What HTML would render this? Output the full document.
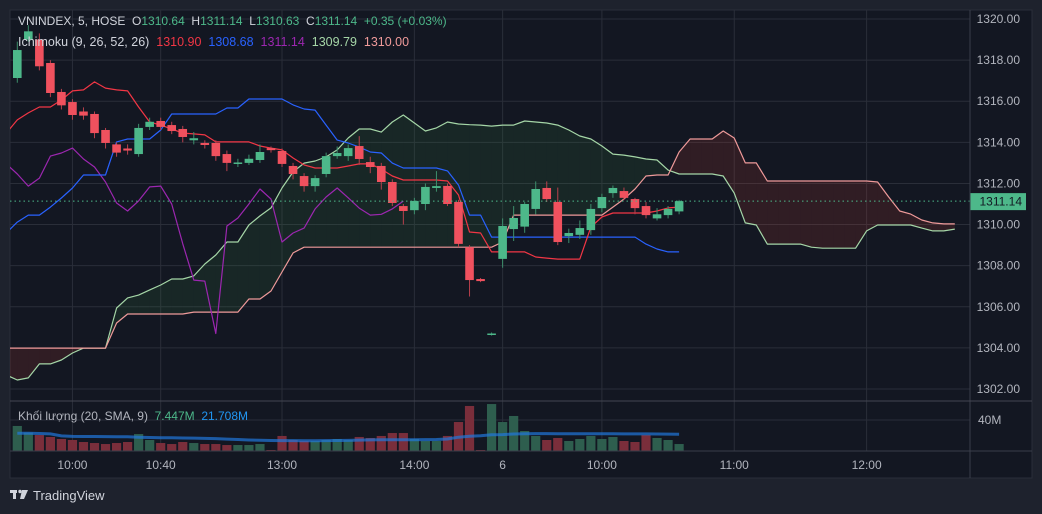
<!DOCTYPE html>
<html><head><meta charset="utf-8">
<style>
html,body{margin:0;padding:0;background:#1e222d;width:1042px;height:514px;overflow:hidden;}
svg{display:block;font-family:"Liberation Sans","Noto Sans CJK JP",sans-serif;}
</style></head>
<body>
<svg id="chart" width="1042" height="514" viewBox="0 0 1042 514">
  <rect x="0" y="0" width="1042" height="514" fill="#1e222d"/>
  <rect x="10" y="10" width="1022" height="468" fill="#131722" stroke="#2a2e39"/>
  <g id="grid"></g>
  <g id="cloud"></g>
  <g id="lines"></g>
  <g id="candles"></g>
  <g id="volume"></g>
  <g id="axes"></g>
  <line x1="970" y1="10" x2="970" y2="478" stroke="#3a3e4a"/>
  <line x1="10" y1="401" x2="1032" y2="401" stroke="#434651"/>
  <line x1="10" y1="451" x2="1032" y2="451" stroke="#3a3e4a"/>
  <text x="18" y="25" font-size="12" fill="#d1d4dc" xml:space="preserve">VNINDEX, 5, HOSE  O<tspan fill="#4db88a">1310.64</tspan>  H<tspan fill="#4db88a">1311.14</tspan>  L<tspan fill="#4db88a">1310.63</tspan>  C<tspan fill="#4db88a">1311.14</tspan>  <tspan fill="#4db88a">+0.35 (+0.03%)</tspan></text>
  <text x="18" y="46" font-size="12.5" fill="#d1d4dc" xml:space="preserve">Ichimoku (9, 26, 52, 26)  <tspan fill="#f23645">1310.90</tspan>  <tspan fill="#2962ff">1308.68</tspan>  <tspan fill="#9c27b0">1311.14</tspan>  <tspan fill="#a5d6a7">1309.79</tspan>  <tspan fill="#ef9a9a">1310.00</tspan></text>
  <text x="18" y="420" font-size="12" fill="#b2b5be" xml:space="preserve">Khối lượng (20, SMA, 9)  <tspan fill="#4db88a">7.447M</tspan>  <tspan fill="#2196f3">21.708M</tspan></text>
  <g>
    <rect x="10" y="490" width="7" height="3" fill="#d1d4dc"/><rect x="13" y="490" width="3" height="9" fill="#d1d4dc"/>
    <circle cx="20" cy="491.5" r="1.7" fill="#d1d4dc"/>
    <polygon points="22,490 28,490 24,499 20,499" fill="#d1d4dc"/>
    <text x="33" y="500" font-size="13" fill="#d1d4dc">TradingView</text>
  </g>
</svg>
<script>
// ---- data ----
const opens  = [1317.13,1319.0,1319.0,1317.86,1316.45,1315.96,1315.5,1315.38,1314.6,1313.9,1313.7,1313.43,1314.75,1315.04,1314.84,1314.65,1314.1,1313.97,1313.97,1313.43,1312.98,1313.0,1313.14,1313.72,1313.58,1312.85,1312.36,1311.87,1312.46,1313.33,1313.33,1313.82,1313.04,1312.85,1312.07,1310.9,1310.7,1311.0,1311.78,1311.88,1311.1,1308.9,1307.35,1304.65,1308.33,1309.78,1309.9,1310.76,1311.78,1311.1,1309.44,1309.5,1309.73,1310.8,1311.53,1311.63,1311.24,1310.9,1310.3,1310.46,1310.64];
const closes = [1318.49,1319.4,1317.7,1316.4,1315.8,1315.33,1315.3,1314.45,1313.97,1313.5,1313.6,1314.7,1315.0,1314.75,1314.55,1314.26,1314.2,1313.87,1313.33,1313.0,1313.02,1313.2,1313.53,1313.62,1312.95,1312.46,1311.87,1312.26,1313.33,1313.48,1313.72,1313.19,1312.8,1312.07,1311.05,1310.66,1311.15,1311.83,1311.87,1311.0,1309.06,1307.3,1307.25,1304.7,1309.93,1310.32,1311.0,1311.73,1311.24,1309.15,1309.59,1309.83,1310.76,1311.34,1311.78,1311.3,1310.8,1310.46,1310.5,1310.76,1311.14];
const highs  = [1318.9,1319.7,1319.3,1318.0,1316.6,1316.1,1315.7,1315.5,1314.7,1314.0,1313.9,1314.9,1315.2,1315.2,1315.0,1314.8,1314.5,1314.1,1314.1,1313.6,1313.2,1313.4,1313.9,1313.8,1313.7,1313.0,1312.5,1312.4,1313.5,1313.8,1313.9,1314.3,1313.3,1313.0,1312.2,1311.0,1311.3,1312.0,1312.6,1312.0,1311.2,1309.0,1307.4,1304.75,1310.3,1310.9,1311.1,1312.1,1312.1,1311.8,1309.8,1310.2,1311.0,1311.5,1311.9,1311.8,1311.3,1311.1,1310.8,1310.9,1311.2];
const lows   = [1316.9,1318.9,1317.5,1316.2,1315.6,1315.1,1315.1,1314.2,1313.7,1313.3,1313.4,1313.3,1314.6,1314.6,1314.4,1314.0,1313.9,1313.7,1313.1,1312.6,1312.8,1312.9,1313.0,1313.5,1312.8,1312.2,1311.6,1311.6,1312.3,1313.2,1313.1,1312.9,1312.5,1311.7,1310.9,1310.0,1310.5,1310.7,1311.6,1310.9,1308.9,1306.5,1307.2,1304.6,1307.9,1309.2,1309.6,1310.5,1311.1,1309.0,1309.1,1309.3,1309.5,1310.6,1311.3,1311.2,1310.5,1310.3,1310.2,1310.3,1310.5];
const volumes = [32.3,23.7,20.6,18.1,15.5,14.2,11.6,10.3,9.0,10.3,11.6,21.9,14.2,10.3,9.0,11.6,10.3,9.0,9.0,7.7,7.7,7.7,9.0,1.3,19.4,14.2,12.9,12.9,14.2,15.5,14.2,18.1,16.8,19.4,23.2,23.2,15.5,12.9,12.9,19.4,37.4,58.1,1.3,60.6,37.4,45.2,25.8,19.4,14.2,16.8,12.9,15.5,19.4,15.5,18.1,12.9,11.6,20.6,16.8,14.2,9.0];
const volumeMA = [22.8,22.8,22.6,22.0,19.5,18.9,18.7,18.7,18.6,18.5,18.3,17.8,17.4,17.1,17.0,16.8,16.6,16.3,16.0,15.4,14.8,14.2,13.8,13.5,13.4,13.4,13.3,13.3,13.4,13.5,13.7,14.1,14.3,14.5,14.6,14.6,14.6,14.7,14.8,15.5,17.8,19.0,19.8,21.0,21.2,21.9,22.2,22.4,22.4,22.3,22.3,22.3,22.3,22.2,22.2,22.1,22.1,22.0,21.9,21.8,21.7];
// tenkan / kijun start at bar -1
const tenkan = [1314.45,1315.09,1315.43,1315.72,1315.72,1316.06,1316.50,1316.55,1316.94,1316.64,1316.55,1316.50,1315.72,1314.99,1314.84,1314.65,1314.45,1314.41,1314.36,1314.02,1314.02,1314.02,1314.02,1313.82,1313.72,1313.63,1313.24,1312.90,1312.75,1312.75,1312.75,1312.85,1312.95,1312.95,1312.70,1312.36,1312.17,1312.17,1312.17,1312.17,1312.12,1311.44,1309.64,1309.59,1308.67,1308.67,1308.67,1308.67,1308.42,1308.37,1308.32,1308.32,1308.32,1309.88,1310.37,1310.56,1310.56,1310.56,1310.56,1310.66,1310.81,1310.85];
const kijun = [1309.59,1310.12,1310.46,1310.46,1310.85,1311.29,1311.78,1312.41,1312.41,1312.41,1314.02,1314.16,1314.16,1314.16,1314.60,1315.38,1315.38,1315.38,1315.38,1315.38,1315.67,1315.67,1316.11,1316.11,1316.11,1316.11,1315.82,1315.62,1315.57,1314.84,1314.11,1313.97,1313.77,1313.53,1313.48,1312.99,1312.75,1312.75,1312.75,1312.75,1312.61,1311.92,1310.46,1310.46,1309.39,1309.39,1309.39,1309.39,1309.39,1309.39,1309.39,1309.39,1309.39,1309.39,1309.39,1309.39,1309.39,1309.39,1309.05,1308.81,1308.67,1308.67];
// spans start at bar -1, end at bar 85
const spanA = [1302.68,1302.44,1302.54,1303.22,1303.22,1303.41,1303.75,1303.99,1303.99,1303.99,1305.94,1306.43,1306.57,1306.82,1307.06,1307.35,1307.35,1307.50,1308.08,1308.52,1309.15,1309.15,1309.98,1310.42,1310.81,1311.78,1312.56,1312.99,1313.09,1313.29,1313.63,1314.21,1314.65,1314.65,1314.50,1314.99,1315.33,1314.94,1314.55,1314.70,1314.99,1314.89,1314.86,1314.84,1314.79,1314.84,1314.84,1315.04,1314.99,1314.94,1314.84,1314.60,1314.31,1314.16,1313.82,1313.43,1313.38,1313.29,1313.19,1313.14,1312.65,1312.46,1312.46,1312.46,1312.46,1312.36,1311.53,1310.08,1309.98,1309.05,1309.05,1309.05,1309.05,1308.90,1308.85,1308.85,1308.85,1308.85,1309.69,1309.98,1309.98,1309.98,1309.98,1309.83,1309.69,1309.69,1309.78];
const spanB = [1303.99,1303.99,1303.99,1303.99,1303.99,1303.99,1303.99,1303.99,1303.99,1303.99,1305.21,1305.65,1305.65,1305.65,1305.65,1305.65,1305.65,1305.74,1305.74,1305.74,1305.74,1305.74,1306.38,1306.38,1306.77,1307.69,1308.62,1308.90,1308.90,1308.90,1308.90,1308.90,1308.90,1308.90,1308.90,1308.90,1308.90,1308.90,1308.90,1308.90,1308.90,1308.90,1308.90,1308.90,1308.90,1309.15,1310.46,1310.46,1310.46,1310.46,1310.46,1310.46,1310.46,1310.46,1310.46,1310.85,1311.24,1311.73,1312.36,1312.41,1312.41,1313.53,1314.16,1314.16,1314.16,1314.55,1314.21,1313.00,1313.00,1312.12,1312.12,1312.12,1312.12,1312.12,1312.12,1312.12,1312.12,1312.12,1312.12,1312.07,1311.34,1310.66,1310.51,1310.22,1310.08,1310.03,1310.03];
const chikouShift = 25;
const priceTicks = [1320,1318,1316,1314,1312,1310,1308,1306,1304,1302];
const timeTickBars = [5,13,24,36,44,53,65,77];
const timeTickLabels = ["10:00","10:40","13:00","14:00","6","10:00","11:00","12:00"];
const lastPrice = 1311.14;
const volTick = 40;

// ---- scales ----
const NS='http://www.w3.org/2000/svg';
const X0=17.3, DX=11.03;
function xs(i){return X0+DX*i;}
function ys(p){return 19+(1320-p)*20.556;}
function yv(v){return 451 - v*31/40;}
function mk(tag,attrs,parent){const e=document.createElementNS(NS,tag);for(const k in attrs)e.setAttribute(k,attrs[k]);parent.appendChild(e);return e;}
const G=id=>document.getElementById(id);

// ---- grid ----
const grid=G('grid');
priceTicks.forEach(p=>{
  const l=mk('line',{x1:10,x2:970,y1:ys(p),y2:ys(p),stroke:'#2a2e39'},grid);
  
  
});
{const l=mk('line',{x1:10,x2:970,y1:yv(volTick),y2:yv(volTick),stroke:'#2a2e39'},grid);

}
timeTickBars.forEach(b=>{
  const l=mk('line',{x1:xs(b),x2:xs(b),y1:10,y2:451,stroke:'#2a2e39'},grid);
  
  
});

// ---- cloud ----
const cloud=G('cloud');
const clipId='plotclip';
const defs=mk('defs',{},G('chart'));
const cp=mk('clipPath',{id:clipId},defs);mk('rect',{x:10,y:10,width:960,height:391},cp);
cloud.setAttribute('clip-path','url(#'+clipId+')');
for(let k=0;k<spanA.length-1;k++){
  const i=k-1;
  const a0=spanA[k],a1=spanA[k+1],b0=spanB[k],b1=spanB[k+1];
  const d0=a0-b0,d1=a1-b1;
  const segs=[];
  if(d0*d1<0){const t=d0/(d0-d1);const pm=a0+(a1-a0)*t;segs.push([i,i+t,a0,pm,b0,pm,d0>0]);segs.push([i+t,i+1,pm,a1,pm,b1,d1>0]);}
  else segs.push([i,i+1,a0,a1,b0,b1,(d0+d1)>=0]);
  segs.forEach(s=>{
    const pts=[[xs(s[0]),ys(s[2])],[xs(s[1]),ys(s[3])],[xs(s[1]),ys(s[5])],[xs(s[0]),ys(s[4])]].map(q=>q.join(',')).join(' ');
    const pg=mk('polygon',{points:pts,fill:s[6]?'rgba(67,160,71,0.12)':'rgba(244,67,54,0.13)'},cloud);
    
    
  });
}
// ---- lines ----
const lines=G('lines');
lines.setAttribute('clip-path','url(#'+clipId+')');
function poly(arr,start,color,name,w){
  const pts=arr.map((v,k)=>xs(start+k).toFixed(1)+','+ys(v).toFixed(1)).join(' ');
  const pl=mk('polyline',{points:pts,fill:'none',stroke:color,'stroke-width':w||1.2,'stroke-linejoin':'round'},lines);
  
  
}
poly(spanA,-1,'#a5d6a7','leading-span-a');
poly(spanB,-1,'#ef9a9a','leading-span-b');
const chikou=closes.slice(chikouShift-1);
poly(chikou,-1,'#9c27b0','lagging-span');
poly(kijun,-1,'#2962ff','base-line');
poly(tenkan,-1,'#f23645','conversion-line');

// ---- candles ----
const cg=G('candles');
opens.forEach((o,i)=>{
  const c=closes[i],up=c>=o,col=up?'#4db88a':'#f0515e';
  const x=xs(i);
  const w=mk('line',{x1:x,x2:x,y1:ys(highs[i]),y2:ys(lows[i]),stroke:up?'#3d8f6c':'#b8404c','stroke-width':1},cg);
  
  
  const top=ys(Math.max(o,c)),h=Math.max(1.5,Math.abs(ys(o)-ys(c)));
  const r=mk('rect',{x:x-4.3,y:top,width:8.6,height:h,fill:col},cg);
  
  
});

// ---- volume ----
const vg=G('volume');
volumes.forEach((v,i)=>{
  const up=closes[i]>=opens[i];
  const r=mk('rect',{x:xs(i)-4.6,y:yv(v),width:9.2,height:451-yv(v),fill:up?'#2e5e4e':'#7a2e3b'},vg);
  
  
});
{const pts=volumeMA.map((v,i)=>xs(i).toFixed(1)+','+yv(v).toFixed(1)).join(' ');
const pl=mk('polyline',{points:pts,fill:'none',stroke:'rgba(33,120,220,0.7)','stroke-width':3},vg);

}

// ---- axes ----
const ax=G('axes');
priceTicks.forEach(p=>{
  const t=mk('text',{x:1020,y:ys(p)+4,'text-anchor':'end','font-size':12,fill:'#b2b5be'},ax);
  t.textContent=p.toFixed(2);
  
  
});
{const t=mk('text',{x:978,y:yv(volTick)+4,'font-size':12,fill:'#b2b5be'},ax);
t.textContent=volTick+'M';

}
timeTickBars.forEach((b,k)=>{
  const t=mk('text',{x:xs(b),y:469,'text-anchor':'middle','font-size':12,fill:'#b2b5be'},ax);
  t.textContent=timeTickLabels[k];
  
  
});
{const yl=ys(lastPrice);
const l=mk('line',{x1:10,x2:970,y1:yl,y2:yl,stroke:'#4db88a','stroke-dasharray':'1.5 3','stroke-width':1},ax);


const r=mk('rect',{x:970,y:yl-8,width:56,height:17,fill:'#4db88a'},ax);


const t=mk('text',{x:1022,y:yl+4.5,'text-anchor':'end','font-size':12,fill:'#131722'},ax);
t.textContent=lastPrice.toFixed(2);

}
</script>
</body></html>
